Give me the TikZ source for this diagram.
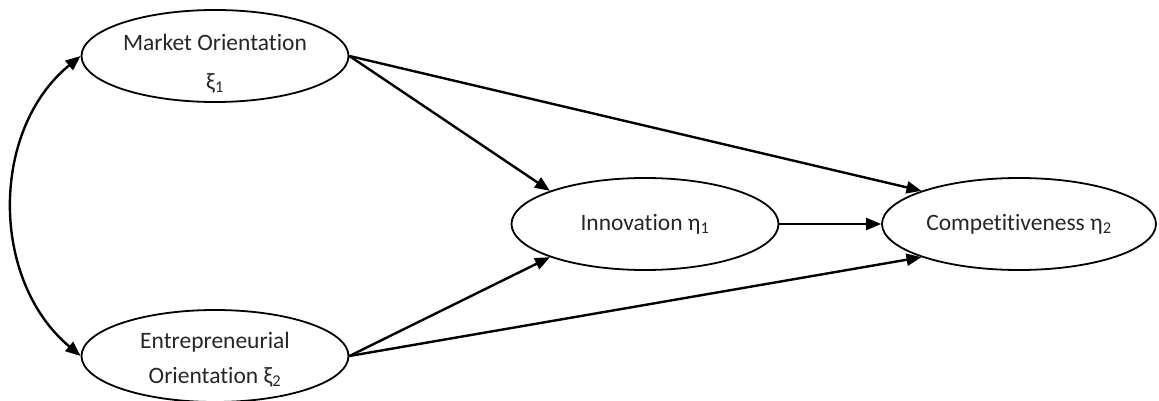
\documentclass[tikz,border=0pt]{standalone}
\usepackage{fontspec}
\setmainfont{Carlito}[Ligatures={NoCommon}]
\usetikzlibrary{shapes.geometric,arrows.meta}
\begin{document}
\begin{tikzpicture}[x=1pt,y=-1pt,
  latent/.style={ellipse,draw,line width=1.8pt,inner sep=0pt,minimum width=267pt,minimum height=92pt,align=center,font=\fontsize{23.5}{28}\selectfont,text=black!85},
  path/.style={line width=2.4pt,-{Triangle[length=15pt,width=12pt]}},
  cov/.style={line width=2.4pt,{Triangle[length=15pt,width=12pt]}-{Triangle[length=15pt,width=12pt]}}]
\useasboundingbox (0,0) rectangle (1159,401);
\node[latent] (mo) at (215,56) {};
\node[font=\fontsize{23.5}{28}\selectfont,text=black!85] (mot) at (215,42) {Market Orientation};
\node[font=\fontsize{23.5}{28}\selectfont,text=black!85] (mox) at (215,83) {ξ\textsubscript{1}};
\node[latent] (eo) at (215,356) {};
\node[font=\fontsize{23.5}{28}\selectfont,text=black!85] (eot) at (215,342) {Entrepreneurial};
\node[font=\fontsize{23.5}{28}\selectfont,text=black!85] (eox) at (215,377) {Orientation ξ\textsubscript{2}};
\node[latent] (in) at (645,224) {Innovation η\textsubscript{1}};
\node[latent,minimum width=274pt] (co) at (1019,224) {Competitiveness η\textsubscript{2}};
\draw[cov] (mo.west) .. controls (-10,130) and (-10,280) .. (eo.west);
\draw[path] (mo.east) -- (in.north west);
\draw[path] (mo.east) -- (co.north west);
\draw[path] (eo.east) -- (in.south west);
\draw[path] (eo.east) -- (co.south west);
\draw[path] (in.east) -- (co.west);
\end{tikzpicture}
\end{document}
